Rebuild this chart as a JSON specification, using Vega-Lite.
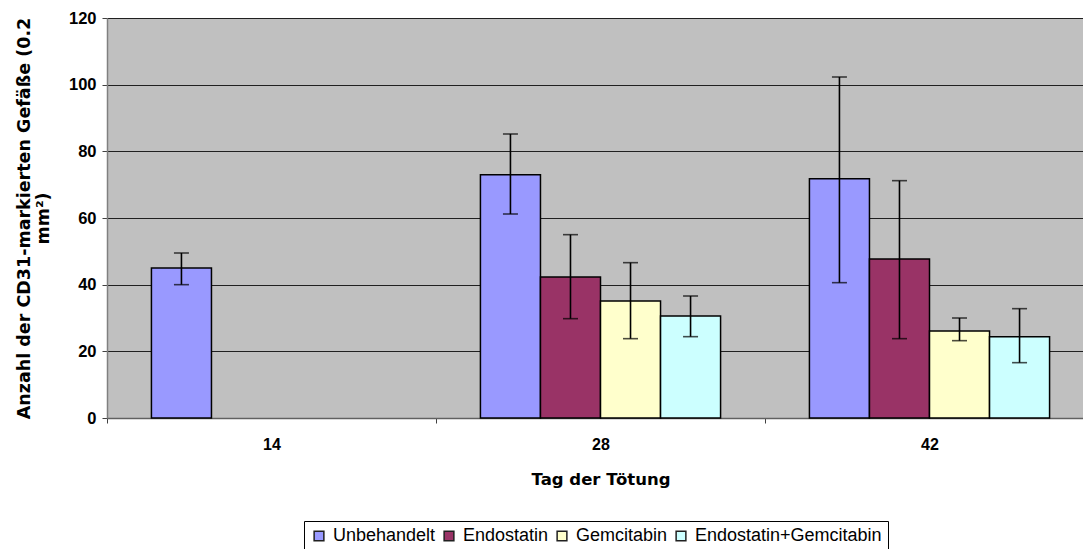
{
  "$schema": "https://vega.github.io/schema/vega-lite/v6.json",
  "autosize": "none",
  "width": 976,
  "height": 400,
  "padding": {"left": 107, "top": 18, "right": 0, "bottom": 131},
  "background": "white",
  "config": {
    "font": "Liberation Sans",
    "view": {"fill": "#c0c0c0", "stroke": null}
  },
  "data": {
    "values": [
      {"Tag": "14", "Gruppe": "Unbehandelt", "Wert": 45.0, "Low": 40.0, "High": 49.5},
      {"Tag": "28", "Gruppe": "Unbehandelt", "Wert": 73.0, "Low": 61.2, "High": 85.2},
      {"Tag": "28", "Gruppe": "Endostatin", "Wert": 42.3, "Low": 29.8, "High": 55.0},
      {"Tag": "28", "Gruppe": "Gemcitabin", "Wert": 35.1, "Low": 23.8, "High": 46.6},
      {"Tag": "28", "Gruppe": "Endostatin+Gemcitabin", "Wert": 30.6, "Low": 24.4, "High": 36.6},
      {"Tag": "42", "Gruppe": "Unbehandelt", "Wert": 71.8, "Low": 40.6, "High": 102.3},
      {"Tag": "42", "Gruppe": "Endostatin", "Wert": 47.7, "Low": 23.8, "High": 71.2},
      {"Tag": "42", "Gruppe": "Gemcitabin", "Wert": 26.1, "Low": 23.2, "High": 30.0},
      {"Tag": "42", "Gruppe": "Endostatin+Gemcitabin", "Wert": 24.4, "Low": 16.6, "High": 32.8}
    ]
  },
  "encoding": {
    "x": {
      "field": "Tag", "type": "nominal", "sort": ["14", "28", "42"],
      "scale": {"range": [0, 987], "paddingInner": 0, "paddingOuter": 0},
      "axis": {
        "title": "Tag der Tötung",
        "titleFont": "DejaVu Sans", "titleFontSize": 16.5, "titleFontWeight": "bold", "titleColor": "black", "titlePadding": 19,
        "labelAngle": 0, "labelFont": "Liberation Sans", "labelFontSize": 16, "labelFontWeight": "bold", "labelColor": "black", "labelPadding": 13,
        "tickOffset": -164.5, "labelOffset": 164.5,
        "tickColor": "#404040", "tickSize": 5, "domainColor": "#606060", "domainWidth": 1.5, "grid": false
      }
    },
    "xOffset": {
      "field": "Gruppe", "type": "nominal",
      "scale": {"domain": ["Unbehandelt", "Endostatin", "Gemcitabin", "Endostatin+Gemcitabin"], "paddingInner": 0, "paddingOuter": 0.74}
    }
  },
  "layer": [
    {
      "mark": {"type": "bar", "stroke": "black", "strokeWidth": 1.5},
      "encoding": {
        "y": {
          "field": "Wert", "type": "quantitative",
          "scale": {"domain": [0, 120], "nice": false},
          "axis": {
            "title": ["Anzahl der CD31-markierten Gefäße (0.2", "mm²)"],
            "titleFont": "DejaVu Sans", "titleFontSize": 17.5, "titleFontWeight": "bold", "titleColor": "black", "titleLineHeight": 19, "titlePadding": 16,
            "values": [0, 20, 40, 60, 80, 100, 120],
            "labelFont": "Liberation Sans", "labelFontSize": 16.5, "labelFontWeight": "bold", "labelColor": "black", "labelPadding": 6,
            "tickColor": "#404040", "tickSize": 5,
            "domainColor": "#808080", "domainWidth": 1.5,
            "grid": true, "gridColor": "#202020", "gridWidth": 1
          }
        },
        "fill": {
          "field": "Gruppe", "type": "nominal",
          "scale": {
            "domain": ["Unbehandelt", "Endostatin", "Gemcitabin", "Endostatin+Gemcitabin"],
            "range": ["#9999ff", "#993366", "#ffffcc", "#ccffff"]
          },
          "legend": {
            "title": null, "orient": "none", "direction": "horizontal",
            "legendX": 197, "legendY": 503,
            "symbolType": "square", "symbolSize": 95, "symbolStrokeColor": "#202020", "symbolStrokeWidth": 1.5,
            "labelFont": "Liberation Sans", "labelFontSize": 18, "labelColor": "black", "labelOffset": 5, "labelLimit": 400,
            "columnPadding": 4,
            "strokeColor": "black", "fillColor": "white", "padding": 6
          }
        }
      }
    },
    {
      "mark": {"type": "rule", "color": "black", "strokeWidth": 1.6},
      "encoding": {
        "y": {"field": "Low", "type": "quantitative"},
        "y2": {"field": "High"}
      }
    },
    {
      "mark": {"type": "tick", "color": "black", "size": 15, "thickness": 1.6, "orient": "horizontal"},
      "encoding": {"y": {"field": "Low", "type": "quantitative"}}
    },
    {
      "mark": {"type": "tick", "color": "black", "size": 15, "thickness": 1.6, "orient": "horizontal"},
      "encoding": {"y": {"field": "High", "type": "quantitative"}}
    }
  ]
}
